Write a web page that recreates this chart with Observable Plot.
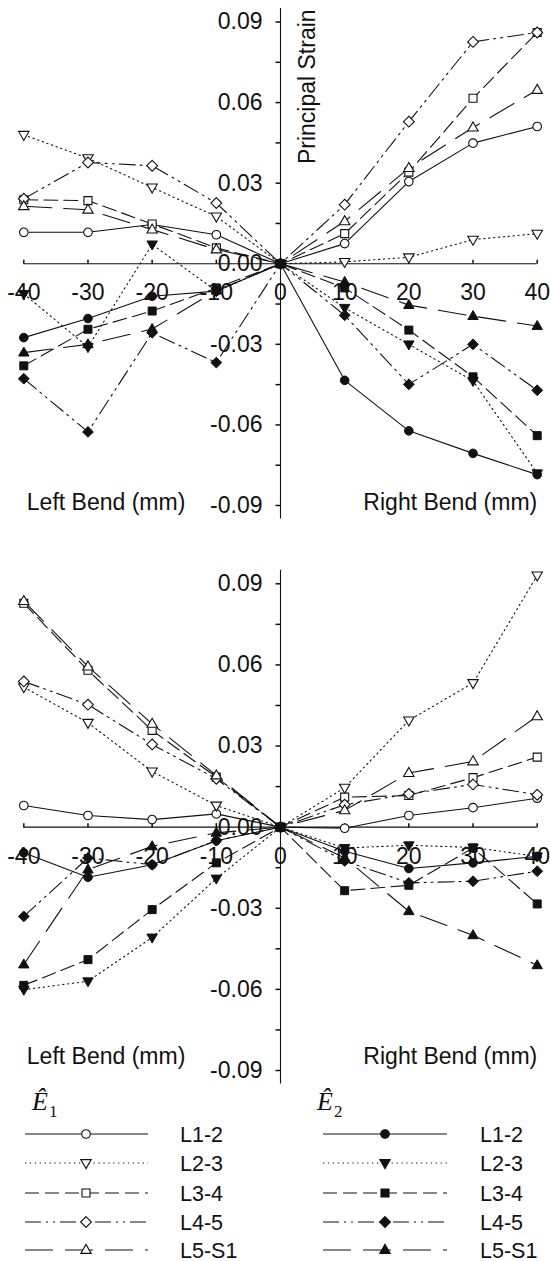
<!DOCTYPE html>
<html><head><meta charset="utf-8">
<script src="https://cdn.jsdelivr.net/npm/d3@7"></script>
<script src="https://cdn.jsdelivr.net/npm/@observablehq/plot@0.6"></script>
<style>
html,body{margin:0;padding:0;background:#fff;}
#chart{width:550px;}
#chart svg{display:block;}
</style></head><body><div id="chart"></div>
<script>
// ---------- data ----------
const bend = [-40, -30, -20, -10, 0, 10, 20, 30, 40];
const seriesNames = ["L1-2", "L2-3", "L3-4", "L4-5", "L5-S1"];

// Panel 1 – E1 (open markers)
const p1E1_L12  = [0.0117, 0.0117, 0.0146, 0.0108, 0, 0.0075, 0.0306, 0.0449, 0.0511];
const p1E1_L23  = [0.0480, 0.0393, 0.0284, 0.0176, 0, 0.0007, 0.0024, 0.0090, 0.0112];
const p1E1_L34  = [0.0238, 0.0235, 0.0148, 0.0059, 0, 0.0112, 0.0341, 0.0616, 0.0861];
const p1E1_L45  = [0.0242, 0.0377, 0.0365, 0.0226, 0, 0.0220, 0.0529, 0.0826, 0.0861];
const p1E1_L5S1 = [0.0214, 0.0201, 0.0127, 0.0053, 0, 0.0158, 0.0356, 0.0507, 0.0647];
// Panel 1 – E2 (filled markers)
const p1E2_L12  = [-0.0275, -0.0204, -0.0121, -0.0102, 0, -0.0434, -0.0622, -0.0706, -0.0785];
const p1E2_L23  = [-0.0112, -0.0310, 0.0072, -0.0102, 0, -0.0164, -0.0300, -0.0436, -0.0780];
const p1E2_L34  = [-0.0380, -0.0244, -0.0176, -0.0090, 0, -0.0090, -0.0247, -0.0421, -0.0640];
const p1E2_L45  = [-0.0428, -0.0626, -0.0257, -0.0368, 0, -0.0192, -0.0449, -0.0300, -0.0471];
const p1E2_L5S1 = [-0.0331, -0.0300, -0.0243, -0.0100, 0, -0.0068, -0.0154, -0.0195, -0.0232];
// Panel 2 – E1 (open markers)
const p2E1_L12  = [0.0080, 0.0043, 0.0028, 0.0049, 0, -0.0004, 0.0043, 0.0072, 0.0107];
const p2E1_L23  = [0.0518, 0.0386, 0.0206, 0.0080, 0, 0.0146, 0.0395, 0.0533, 0.0931];
const p2E1_L34  = [0.0828, 0.0580, 0.0358, 0.0185, 0, 0.0111, 0.0117, 0.0183, 0.0259];
const p2E1_L45  = [0.0539, 0.0453, 0.0306, 0.0179, 0, 0.0083, 0.0123, 0.0158, 0.0120];
const p2E1_L5S1 = [0.0836, 0.0594, 0.0382, 0.0191, 0, 0.0062, 0.0200, 0.0243, 0.0410];
// Panel 2 – E2 (filled markers)
const p2E2_L12  = [-0.0095, -0.0185, -0.0139, -0.0050, 0, -0.0089, -0.0153, -0.0132, -0.0108];
const p2E2_L23  = [-0.0601, -0.0570, -0.0408, -0.0190, 0, -0.0077, -0.0067, -0.0075, -0.0108];
const p2E2_L34  = [-0.0585, -0.0490, -0.0305, -0.0132, 0, -0.0235, -0.0215, -0.0077, -0.0284];
const p2E2_L45  = [-0.0330, -0.0114, -0.0139, -0.0050, 0, -0.0125, -0.0206, -0.0200, -0.0163];
const p2E2_L5S1 = [-0.0508, -0.0157, -0.0071, -0.0021, 0, -0.0114, -0.0311, -0.0400, -0.0511];

// Axis ticks and labels
const xTickValues = [-40, -30, -20, -10, 0, 10, 20, 30, 40];
const xTickLabels = ["-40", "-30", "-20", "-10", "0", "10", "20", "30", "40"];
const yTickValues = [0.09, 0.06, 0.03, 0, -0.03, -0.06, -0.09];
const yTickLabels = ["0.09", "0.06", "0.03", "0.00", "-0.03", "-0.06", "-0.09"];
const yMinorTicks = [-0.09, -0.075, -0.06, -0.045, -0.03, -0.015, 0, 0.015, 0.03, 0.045, 0.06, 0.075, 0.09];
const leftLabel = "Left Bend (mm)";
const rightLabel = "Right Bend (mm)";
const yTitle = "Principal Strain";

// ---------- styles ----------
const FONT = "'Liberation Sans', Arial, Helvetica, sans-serif";
const INK = "#111";
const sym = {
  circle:  {draw(c) { c.moveTo(4.3, 0); c.arc(0, 0, 4.3, 0, 2 * Math.PI); c.closePath(); }},
  square:  {draw(c) { c.rect(-4, -4, 8, 8); }},
  diamond: {draw(c) { c.moveTo(0, -5.4); c.lineTo(5.4, 0); c.lineTo(0, 5.4); c.lineTo(-5.4, 0); c.closePath(); }},
  triUp:   {draw(c) { c.moveTo(0, -5.6); c.lineTo(5.2, 3.4); c.lineTo(-5.2, 3.4); c.closePath(); }},
  triDown: {draw(c) { c.moveTo(0, 5.6); c.lineTo(5.2, -3.4); c.lineTo(-5.2, -3.4); c.closePath(); }},
  tickLeft:{draw(c) { c.moveTo(-5, 0); c.lineTo(0, 0); }},
  tickUp:  {draw(c) { c.moveTo(0, -4); c.lineTo(0, 0); }}
};
const seriesStyle = {
  "L1-2":  {dash: "none",          symbol: sym.circle},
  "L2-3":  {dash: "1.3,3.6",       symbol: sym.triDown},
  "L3-4":  {dash: "14,6",          symbol: sym.square},
  "L4-5":  {dash: "16,5,2,5,2,5",  symbol: sym.diamond},
  "L5-S1": {dash: "28,12",         symbol: sym.triUp}
};

function rowsOf(values) { return bend.map((x, i) => ({x, y: values[i]})); }

function panelPlot(E1, E2, opts) {
  const marks = [];
  marks.push(Plot.ruleY([0], {x1: () => -40, x2: () => 40, stroke: INK, strokeWidth: 1.1}));
  marks.push(Plot.ruleX([0], {y1: () => -0.095, y2: () => 0.095, stroke: INK, strokeWidth: 1.1}));
  marks.push(Plot.dot(yMinorTicks, {x: () => 0, y: d => d, symbol: sym.tickLeft, stroke: INK, fill: "none", r: 3}));
  marks.push(Plot.dot(xTickValues, {x: d => d, y: () => 0, symbol: sym.tickUp, stroke: INK, fill: "none", r: 3}));
  marks.push(Plot.text(xTickValues, {x: d => d, y: () => 0, dy: 29, text: (d, i) => xTickLabels[i],
    fontSize: 23, textAnchor: "middle", lineAnchor: "middle", fill: INK}));
  marks.push(Plot.text(yTickValues, {x: () => 0, y: d => d, dx: -18, text: (d, i) => yTickLabels[i],
    fontSize: 23, textAnchor: "end", lineAnchor: "middle", fill: INK}));
  marks.push(Plot.text([leftLabel], {x: () => -40, y: () => -0.09, dx: 3, dy: opts.bendDy, text: d => d,
    fontSize: 23, textAnchor: "start", lineAnchor: "bottom", fill: INK}));
  marks.push(Plot.text([rightLabel], {x: () => 40, y: () => -0.09, dy: opts.bendDy, text: d => d,
    fontSize: 23, textAnchor: "end", lineAnchor: "bottom", fill: INK}));
  if (opts.title) {
    marks.push(Plot.text([yTitle], {x: () => 0, y: () => 0.0659, dx: 27, rotate: -90, text: d => d,
      fontSize: 23, textAnchor: "middle", lineAnchor: "middle", fill: INK}));
  }
  [E1, E2].forEach(group => {
    seriesNames.forEach((name, k) => {
      marks.push(Plot.line(rowsOf(group[k]), {x: "x", y: "y", stroke: INK, strokeWidth: 1.1,
        strokeDasharray: seriesStyle[name].dash}));
    });
  });
  seriesNames.forEach((name, k) => {
    marks.push(Plot.dot(rowsOf(E1[k]), {x: "x", y: "y", symbol: seriesStyle[name].symbol, r: 4,
      fill: "white", stroke: INK, strokeWidth: 1.1}));
  });
  seriesNames.forEach((name, k) => {
    marks.push(Plot.dot(rowsOf(E2[k]), {x: "x", y: "y", symbol: seriesStyle[name].symbol, r: 4,
      fill: INK, stroke: INK, strokeWidth: 1}));
  });
  return Plot.plot({
    width: 550,
    height: opts.height,
    marginLeft: 23.3,
    marginRight: 13.3,
    marginTop: opts.marginTop,
    marginBottom: opts.marginBottom,
    x: {domain: [-40, 40], axis: null},
    y: {domain: [-0.09, 0.09], axis: null},
    style: {fontFamily: FONT, background: "white", overflow: "visible", color: INK},
    marks
  });
}

const chart = document.getElementById("chart");
chart.appendChild(panelPlot(
  [p1E1_L12, p1E1_L23, p1E1_L34, p1E1_L45, p1E1_L5S1],
  [p1E2_L12, p1E2_L23, p1E2_L34, p1E2_L45, p1E2_L5S1],
  {height: 545, marginTop: 21.5, marginBottom: 40, bendDy: 4, title: true}));
chart.appendChild(panelPlot(
  [p2E1_L12, p2E1_L23, p2E1_L34, p2E1_L45, p2E1_L5S1],
  [p2E2_L12, p2E2_L23, p2E2_L34, p2E2_L45, p2E2_L5S1],
  {height: 540, marginTop: 38.3, marginBottom: 15, bendDy: -7, title: false}));

// ---------- legend ----------
const leg = d3.create("svg").attr("width", 550).attr("height", 176)
  .style("display", "block").style("background", "white").style("font-family", FONT);
const cols = [
  {x0: 25, x1: 148, mx: 86, tx: 180, ex: 32, sub: "1", open: true},
  {x0: 323, x1: 447, mx: 385, tx: 480, ex: 317, sub: "2", open: false}
];
const rowY = [49, 78, 108, 137, 165];
cols.forEach(col => {
  const t = leg.append("text").attr("x", col.ex).attr("y", 25)
    .style("font-family", "'Liberation Serif', 'Times New Roman', serif").attr("fill", INK);
  t.append("tspan").attr("font-size", 26).attr("font-style", "italic").text("Ê");
  t.append("tspan").attr("font-size", 17).attr("font-style", "normal").attr("dy", 7).attr("dx", 1).text(col.sub);
  seriesNames.forEach((name, k) => {
    const y = rowY[k];
    leg.append("line").attr("x1", col.x0).attr("x2", col.x1).attr("y1", y).attr("y2", y)
      .attr("stroke", INK).attr("stroke-width", 1.1)
      .attr("stroke-dasharray", seriesStyle[name].dash);
    leg.append("path").attr("transform", `translate(${col.mx},${y})`)
      .attr("d", d3.symbol(seriesStyle[name].symbol, 50)())
      .attr("fill", col.open ? "white" : INK).attr("stroke", INK).attr("stroke-width", 1.1);
    leg.append("text").attr("x", col.tx).attr("y", y + 7.5).attr("font-size", 21.5)
      .attr("fill", INK).text(name);
  });
});
chart.appendChild(leg.node());
</script>
</body></html>
